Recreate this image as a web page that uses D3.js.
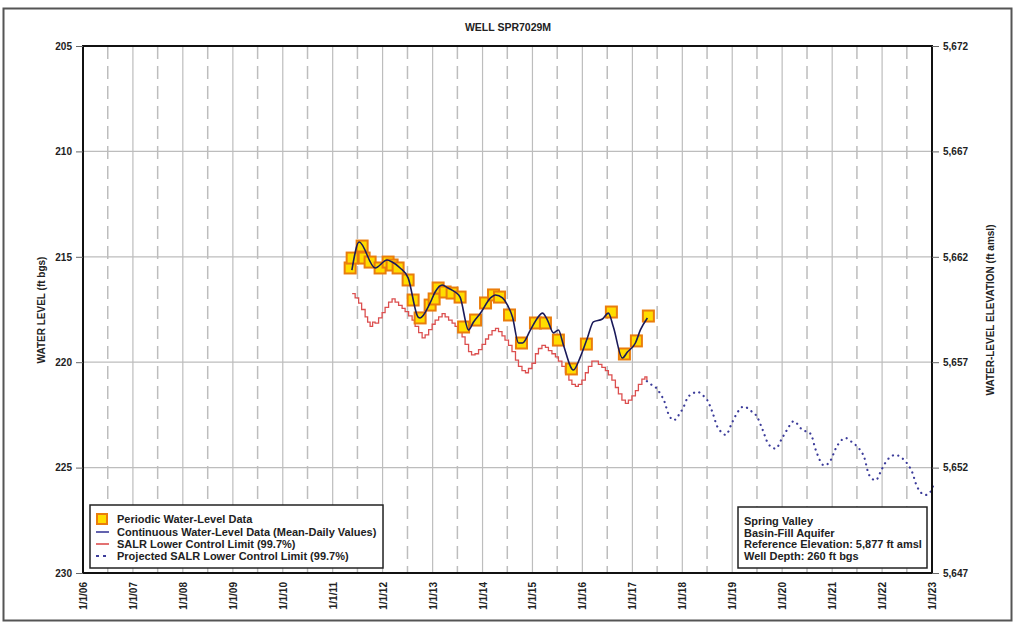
<!DOCTYPE html>
<html><head><meta charset="utf-8">
<script src="https://cdn.jsdelivr.net/npm/d3@7"></script>
<style>
body{margin:0;background:#fff;}
text{font-family:"Liberation Sans",Arial,sans-serif;font-weight:bold;fill:#222;}
</style></head>
<body><svg id="c" width="1016" height="627"></svg>
<script>
const title = "WELL SPR7029M";
const refElevation = 5877;
const yTicks = [205, 210, 215, 220, 225, 230];
const yearTicks = d3.range(2006, 2024);

// Periodic water-level data (decimal year, ft bgs)
const periodicYears = [2011.35,2011.39,2011.59,2011.63,2011.75,2011.95,2012.11,2012.19,2012.31,2012.51,2012.61,2012.75,2012.95,2013.03,2013.11,2013.25,2013.39,2013.55,2013.62,2013.86,2014.06,2014.22,2014.34,2014.54,2014.78,2015.06,2015.26,2015.52,2015.78,2016.08,2016.58,2016.84,2017.08,2017.32];
const periodicLevels = [215.53,215.06,214.49,215.06,215.25,215.53,215.25,215.39,215.53,216.10,217.05,217.90,217.29,217.00,216.48,216.67,216.72,216.91,218.33,218.00,217.19,216.81,216.91,217.76,219.09,218.14,218.14,218.95,220.32,219.14,217.62,219.61,218.99,217.81];

// Continuous water-level data (mean-daily values)
const contYears = [2011.385,2011.53,2011.85,2012.09,2012.19,2012.35,2012.51,2012.71,2012.75,2012.95,2013.05,2013.19,2013.31,2013.45,2013.55,2013.72,2013.82,2013.96,2014.16,2014.26,2014.40,2014.50,2014.60,2014.72,2014.80,2014.96,2015.10,2015.20,2015.30,2015.42,2015.52,2015.62,2015.82,2015.96,2016.10,2016.22,2016.40,2016.52,2016.62,2016.80,2016.90,2017.06,2017.16,2017.30];
const contLevels = [215.63,214.30,215.53,215.15,215.25,215.53,216.0,217.86,217.90,217.19,216.67,216.34,216.48,216.67,216.91,218.47,218.09,217.67,216.95,216.81,216.95,217.29,217.86,219.09,219.09,218.47,217.90,217.67,218.00,218.61,218.47,219.18,220.37,219.75,218.85,218.09,217.95,217.67,218.33,219.80,219.52,219.09,218.47,217.90];

// SALR lower control limit (99.7%)
const salrYears = [2011.39,2011.45,2011.52,2011.58,2011.65,2011.70,2011.75,2011.80,2011.85,2011.92,2011.99,2012.05,2012.12,2012.19,2012.25,2012.32,2012.39,2012.45,2012.52,2012.59,2012.65,2012.72,2012.79,2012.85,2012.92,2012.99,2013.05,2013.12,2013.19,2013.25,2013.32,2013.39,2013.45,2013.52,2013.59,2013.65,2013.72,2013.78,2013.85,2013.92,2013.99,2014.06,2014.12,2014.19,2014.26,2014.32,2014.39,2014.45,2014.52,2014.59,2014.66,2014.72,2014.79,2014.86,2014.92,2014.99,2015.06,2015.12,2015.19,2015.26,2015.32,2015.39,2015.46,2015.52,2015.59,2015.66,2015.73,2015.79,2015.86,2015.92,2015.99,2016.06,2016.12,2016.19,2016.26,2016.32,2016.39,2016.46,2016.52,2016.59,2016.66,2016.72,2016.79,2016.86,2016.92,2016.99,2017.06,2017.12,2017.19,2017.25,2017.29];
const salrLevels = [216.75,216.95,217.2,217.5,217.85,218.1,218.3,218.1,218.15,217.9,217.65,217.4,217.15,217.0,217.15,217.3,217.45,217.6,217.8,218.0,218.3,218.6,218.85,218.7,218.45,218.2,218.0,217.85,217.7,217.85,218.0,218.15,218.3,218.5,218.8,219.15,219.5,219.65,219.6,219.4,219.15,218.9,218.7,218.5,218.4,218.55,218.75,218.95,219.2,219.5,219.9,220.2,220.4,220.5,220.3,220.05,219.6,219.35,219.2,219.3,219.45,219.6,219.75,219.95,220.2,220.5,220.85,221.05,221.15,221.05,220.85,220.5,220.2,219.95,219.95,220.1,220.25,220.4,220.6,220.85,221.2,221.5,221.8,221.95,221.8,221.6,221.35,221.05,220.8,220.7,220.85];

// Projected SALR lower control limit (99.7%)
const projYears = [2017.29,2017.40,2017.49,2017.56,2017.63,2017.73,2017.83,2017.93,2018.03,2018.10,2018.20,2018.30,2018.40,2018.50,2018.60,2018.70,2018.80,2018.87,2019.00,2019.10,2019.23,2019.37,2019.50,2019.60,2019.73,2019.87,2020.00,2020.10,2020.23,2020.40,2020.57,2020.67,2020.84,2020.97,2021.07,2021.27,2021.40,2021.54,2021.64,2021.74,2021.87,2022.00,2022.10,2022.27,2022.40,2022.50,2022.60,2022.70,2022.87,2022.97,2023.03];
const projLevels = [220.9,221.1,221.25,221.5,221.8,222.5,222.75,222.5,222.1,221.7,221.5,221.4,221.55,221.8,222.35,223.05,223.35,223.45,222.85,222.4,222.1,222.3,222.6,223.15,223.9,224.1,223.6,223.2,222.8,223.2,223.4,224.15,224.9,224.65,224.1,223.6,223.8,224.1,224.5,225.35,225.6,225.05,224.65,224.4,224.55,224.8,225.2,225.9,226.3,226.15,225.8];

const legendLabels = ["Periodic Water-Level Data","Continuous Water-Level Data (Mean-Daily Values)","SALR Lower Control Limit (99.7%)","Projected SALR Lower Control Limit (99.7%)"];
const infoLines = ["Spring Valley","Basin-Fill Aquifer","Reference Elevation: 5,877 ft amsl","Well Depth: 260 ft bgs"];

function toDate(y){const yr=Math.floor(y);const s=new Date(yr,0,1),e=new Date(yr+1,0,1);return new Date(+s+(y-yr)*(e-s));}
const zip=(xs,ys)=>xs.map((v,i)=>({d:toDate(v),v:ys[i]}));

const svg=d3.select("#c");
const L=83,R=932,T=46,B=573;
const x=d3.scaleTime().domain([new Date(2006,0,1),new Date(2023,0,1)]).range([L,R]);
const y=d3.scaleLinear().domain([205,230]).range([T,B]);
const y2=d3.scaleLinear().domain([refElevation-205,refElevation-230]).range([T,B]);

// outer frame
svg.append("rect").attr("x",3.5).attr("y",8.5).attr("width",1008).attr("height",612).attr("fill","none").attr("stroke","#555").attr("stroke-width",2);

// title
svg.append("text").attr("x",508).attr("y",31).attr("text-anchor","middle").attr("font-size",10.5).text(title);

const g=svg.append("g");
// grid
g.selectAll(".hg").data(yTicks.slice(1,-1)).join("line").attr("x1",L).attr("x2",R).attr("y1",d=>y(d)).attr("y2",d=>y(d)).attr("stroke","#bdbdbd").attr("stroke-width",1.2);
g.selectAll(".vg").data(yearTicks.slice(1,-1)).join("line").attr("x1",d=>x(new Date(d,0,1))).attr("x2",d=>x(new Date(d,0,1))).attr("y1",T).attr("y2",B).attr("stroke","#bdbdbd").attr("stroke-width",1.2);
g.selectAll(".vm").data(yearTicks.slice(0,-1)).join("line").attr("x1",d=>x(new Date(d,6,1))).attr("x2",d=>x(new Date(d,6,1))).attr("y1",T).attr("y2",B).attr("stroke","#bdbdbd").attr("stroke-width",1.5).attr("stroke-dasharray","13,7");

// SALR
const line=d3.line().x(d=>x(d.d)).y(d=>y(d.v));
g.append("path").datum(zip(salrYears,salrLevels)).attr("d",line.curve(d3.curveStepAfter)).attr("fill","none").attr("stroke","#dc4f4f").attr("stroke-width",1.3);
// projected
g.append("path").datum(zip(projYears,projLevels)).attr("d",d3.line().x(d=>x(d.d)).y(d=>y(d.v)).curve(d3.curveMonotoneX)).attr("fill","none").attr("stroke","#3c3c9a").attr("stroke-width",2.2).attr("stroke-dasharray","0.1,5.5").attr("stroke-linecap","round");

// periodic squares
const sz=11;
g.selectAll(".pt").data(zip(periodicYears,periodicLevels)).join("rect").attr("x",d=>x(d.d)-sz/2).attr("y",d=>y(d.v)-sz/2).attr("width",sz).attr("height",sz).attr("fill","#ffdd00").attr("stroke","#ea7d0c").attr("stroke-width",2);

// continuous line
g.append("path").datum(zip(contYears,contLevels)).attr("d",d3.line().x(d=>x(d.d)).y(d=>y(d.v)).curve(d3.curveMonotoneX)).attr("fill","none").attr("stroke","#1a1a5a").attr("stroke-width",1.6);

// frame
svg.append("rect").attr("x",L).attr("y",T).attr("width",R-L).attr("height",B-T).attr("fill","none").attr("stroke","#111").attr("stroke-width",2);

// axes
const ax=svg.append("g").attr("transform",`translate(${L},0)`).call(d3.axisLeft(y).tickValues(yTicks).tickSize(7).tickPadding(4));
ax.select(".domain").remove();
ax.selectAll("text").attr("font-size",10).style("font-weight","bold").attr("fill","#222");
ax.selectAll("line").attr("stroke","#666");
const ar=svg.append("g").attr("transform",`translate(${R},0)`).call(d3.axisRight(y2).tickValues(yTicks.map(t=>refElevation-t)).tickSize(7).tickPadding(4).tickFormat(d3.format(",")));
ar.select(".domain").remove();
ar.selectAll("text").attr("font-size",10).style("font-weight","bold").attr("fill","#222");
ar.selectAll("line").attr("stroke","#666");

const fmt=d3.timeFormat("%-m/%-d/%y");
svg.append("g").selectAll("text").data(yearTicks).join("text").attr("transform",d=>`translate(${x(new Date(d,0,1))+4},582) rotate(-90)`).attr("text-anchor","end").attr("font-size",10).text(d=>fmt(new Date(d,0,1)));

svg.append("text").attr("transform","translate(45,310) rotate(-90)").attr("text-anchor","middle").attr("font-size",10).text("WATER LEVEL (ft bgs)");
svg.append("text").attr("transform","translate(994,310) rotate(-90)").attr("text-anchor","middle").attr("font-size",10).text("WATER-LEVEL ELEVATION (ft amsl)");

// legend
const lg=svg.append("g");
lg.append("rect").attr("x",90).attr("y",505).attr("width",293).attr("height",63).attr("fill","#fff").attr("stroke","#222").attr("stroke-width",1.5);
const ly=[519,532,544,556];
lg.selectAll("text").data(legendLabels).join("text").attr("x",117).attr("y",(d,i)=>ly[i]+4).attr("font-size",11).text(d=>d);
lg.append("rect").attr("x",97).attr("y",ly[0]-5).attr("width",10).attr("height",10).attr("fill","#ffdd00").attr("stroke","#ea7d0c").attr("stroke-width",2);
lg.append("line").attr("x1",96).attr("x2",109).attr("y1",ly[1]).attr("y2",ly[1]).attr("stroke","#3c3c9a").attr("stroke-width",1.6);
lg.append("line").attr("x1",96).attr("x2",109).attr("y1",ly[2]).attr("y2",ly[2]).attr("stroke","#dc4f4f").attr("stroke-width",1.6);
lg.append("line").attr("x1",96).attr("x2",110).attr("y1",ly[3]).attr("y2",ly[3]).attr("stroke","#3c3c9a").attr("stroke-width",2).attr("stroke-dasharray","3,4");

// info box
const ib=svg.append("g");
ib.append("rect").attr("x",738).attr("y",507).attr("width",189).attr("height",61).attr("fill","#fff").attr("stroke","#222").attr("stroke-width",1.5);
ib.selectAll("text").data(infoLines).join("text").attr("x",744).attr("y",(d,i)=>525+i*11.5).attr("font-size",11).text(d=>d);
</script></body></html>
